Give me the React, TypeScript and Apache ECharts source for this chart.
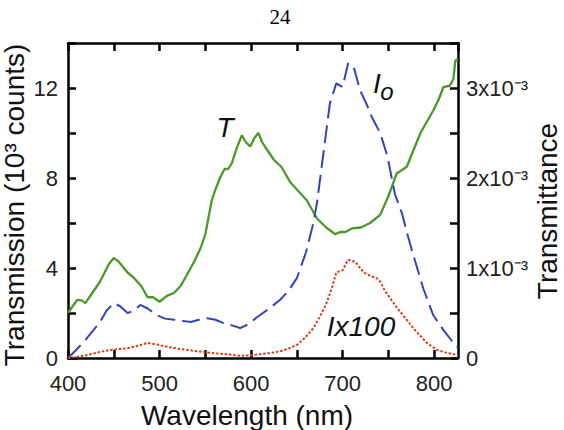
import React, { useEffect, useRef } from "react";
import * as echarts from "echarts";

// Wavelength (nm) sample positions and values
const tWavelength = [400, 405, 410, 415, 419, 425, 435, 445, 450, 455, 465, 472, 480, 487, 493, 500, 508, 516, 523, 530, 538, 545, 550, 554, 557, 561, 566, 571, 575, 579, 584, 590, 594, 599, 604, 608, 612, 615, 620, 625, 633, 643, 652, 661, 672, 682, 692, 697, 703, 710, 720, 730, 741, 750, 759, 770, 778, 785, 792, 799, 805, 810, 817, 821, 823, 826];
// Transmittance T in units of 10^-3
const tValues = [0.5, 0.575, 0.645, 0.64, 0.61, 0.7, 0.85, 1.05, 1.11, 1.075, 0.95, 0.89, 0.8, 0.675, 0.675, 0.625, 0.69, 0.725, 0.8, 0.925, 1.075, 1.225, 1.375, 1.59, 1.75, 1.87, 2.0, 2.1, 2.1, 2.165, 2.325, 2.475, 2.4, 2.35, 2.45, 2.5, 2.4, 2.35, 2.275, 2.2, 2.125, 1.95, 1.85, 1.75, 1.55, 1.45, 1.375, 1.4, 1.4, 1.44, 1.45, 1.5, 1.59, 1.8, 2.05, 2.125, 2.325, 2.5, 2.625, 2.75, 2.875, 3.01, 3.025, 3.1, 3.3, 3.325];

const i0Wavelength = [400, 410, 420, 428, 435, 442, 450, 457, 465, 472, 479, 487, 497, 506, 516, 525, 534, 543, 552, 561, 570, 579, 588, 597, 606, 620, 632, 641, 650, 660, 668, 672, 679, 686, 693, 700, 706, 712, 719, 727, 732, 741, 749, 757, 765, 770, 777, 788, 799, 810, 821, 826];
// I0 in 10^3 counts
const i0Values = [0, 0.4, 0.85, 1.25, 1.6, 2.1, 2.44, 2.3, 2.0, 2.1, 2.36, 2.2, 1.9, 1.75, 1.7, 1.65, 1.6, 1.7, 1.77, 1.7, 1.55, 1.45, 1.33, 1.5, 1.8, 2.2, 2.6, 3.0, 3.55, 4.7, 6.0, 6.9, 9.1, 11.3, 12.2, 12.05, 13.1, 12.95, 11.9, 11.2, 10.7, 10.0, 8.95, 7.3, 6.4, 5.6, 4.6, 3.1, 1.9, 1.25, 0.67, 0.45];

const iWavelength = [400, 410, 421, 433, 446, 465, 477, 487, 497, 508, 519, 530, 541, 552, 563, 573, 588, 600, 610, 621, 632, 641, 650, 659, 668, 676, 683, 689, 693, 700, 706, 714, 723, 730, 737, 741, 746, 752, 759, 766, 772, 777, 785, 792, 803, 812, 821, 826];
// I x 100 in 10^3 counts
const iValues = [0, 0.05, 0.13, 0.25, 0.36, 0.43, 0.55, 0.67, 0.6, 0.5, 0.42, 0.36, 0.3, 0.25, 0.2, 0.17, 0.1, 0.12, 0.17, 0.22, 0.3, 0.42, 0.58, 0.9, 1.33, 1.9, 2.5, 3.2, 3.8, 3.9, 4.36, 4.27, 3.8, 3.65, 3.55, 3.4, 3.0, 2.65, 2.25, 1.9, 1.6, 1.33, 0.98, 0.67, 0.36, 0.25, 0.17, 0.12];

const xMin = 400;
const xMax = 826;
const leftMax = 14;
const rightMax = 3.5;

const FONT = "Liberation Sans, Arial, sans-serif";

export default function App() {
  const ref = useRef<HTMLDivElement>(null);
  useEffect(() => {
    if (!ref.current) return;
    const chart = echarts.init(ref.current, null, { renderer: "svg" });
    const zip = (xs: number[], ys: number[]) => xs.map((x, i) => [x, ys[i]]);
    const axisLine = () => ({ show: true, onZero: false, lineStyle: { color: "#000", width: 2.5 } });
    const tick = () => ({ show: true, inside: true, length: 8, lineStyle: { color: "#000", width: 2.5 } });
    chart.setOption({
      animation: false,
      backgroundColor: "#fff",
      grid: { left: 68, right: 106, top: 43, bottom: 72 },
      xAxis: [
        {
          type: "value",
          min: xMin,
          max: xMax,
          interval: 50,
          axisLine: axisLine(),
          axisTick: tick(),
          splitLine: { show: false },
          axisLabel: {
            margin: 14,
            fontSize: 22,
            fontFamily: FONT,
            color: "#222",
            showMaxLabel: false,
            formatter: (v: number) => (v % 100 === 0 ? String(v) : ""),
          },
        },
        {
          type: "value",
          position: "top",
          min: xMin,
          max: xMax,
          interval: 50,
          axisLine: axisLine(),
          axisTick: tick(),
          splitLine: { show: false },
          axisLabel: { show: false },
        },
      ],
      yAxis: [
        {
          type: "value",
          min: 0,
          max: leftMax,
          interval: 2,
          axisLine: axisLine(),
          axisTick: tick(),
          splitLine: { show: false },
          axisLabel: {
            margin: 10,
            fontSize: 22,
            fontFamily: FONT,
            color: "#222",
            formatter: (v: number) => (v % 4 === 0 && v < leftMax ? String(v) : ""),
          },
        },
        {
          type: "value",
          position: "right",
          min: 0,
          max: rightMax,
          interval: 0.5,
          axisLine: axisLine(),
          axisTick: tick(),
          splitLine: { show: false },
          axisLabel: {
            margin: 8,
            fontSize: 22,
            fontFamily: FONT,
            color: "#222",
            formatter: (v: number) => {
              if (v === 0) return "0";
              if (Math.abs(v - Math.round(v)) < 1e-9 && v < rightMax) return Math.round(v) + "x10\u207B\u00B3";
              return "";
            },
          },
        },
      ],
      series: [
        {
          name: "T",
          type: "line",
          yAxisIndex: 1,
          showSymbol: false,
          symbol: "none",
          data: zip(tWavelength, tValues),
          lineStyle: { color: "#4a9a2a", width: 2.3 },
        },
        {
          name: "I0",
          type: "line",
          yAxisIndex: 0,
          showSymbol: false,
          symbol: "none",
          data: zip(i0Wavelength, i0Values),
          lineStyle: { color: "#3344bb", width: 2, type: [18, 7] },
        },
        {
          name: "Ix100",
          type: "line",
          yAxisIndex: 0,
          showSymbol: false,
          symbol: "none",
          data: zip(iWavelength, iValues),
          lineStyle: { color: "#e03a1a", width: 2, type: [2.5, 1.8] },
        },
      ],
      graphic: [
        {
          type: "text",
          x: 280,
          y: 17,
          style: { text: "24", font: "21px Liberation Serif, serif", fill: "#000", align: "center", verticalAlign: "middle" },
        },
        {
          type: "text",
          x: 14,
          y: 205,
          rotation: Math.PI / 2,
          style: { text: "Transmission (10\u00B3 counts)", font: "28px " + FONT, fill: "#111", align: "center", verticalAlign: "middle" },
        },
        {
          type: "text",
          x: 547,
          y: 211,
          rotation: Math.PI / 2,
          style: { text: "Transmittance", font: "28px " + FONT, fill: "#111", align: "center", verticalAlign: "middle" },
        },
        {
          type: "text",
          x: 247,
          y: 415,
          style: { text: "Wavelength (nm)", font: "28px " + FONT, fill: "#111", align: "center", verticalAlign: "middle" },
        },
        {
          type: "text",
          x: 225,
          y: 127,
          style: { text: "T", font: "italic 28px " + FONT, fill: "#111", align: "center", verticalAlign: "middle" },
        },
        {
          type: "text",
          x: 377,
          y: 83,
          style: { text: "I", font: "italic 28px " + FONT, fill: "#111", align: "center", verticalAlign: "middle" },
        },
        {
          type: "text",
          x: 387,
          y: 91,
          style: { text: "o", font: "italic 24px " + FONT, fill: "#111", align: "center", verticalAlign: "middle" },
        },
        {
          type: "text",
          x: 361,
          y: 326,
          style: { text: "Ix100", font: "italic 28px " + FONT, fill: "#111", align: "center", verticalAlign: "middle" },
        },
      ],
    });
    return () => chart.dispose();
  }, []);
  return <div ref={ref} style={{ position: "absolute", left: 0, top: 0, width: 564, height: 430 }} />;
}
